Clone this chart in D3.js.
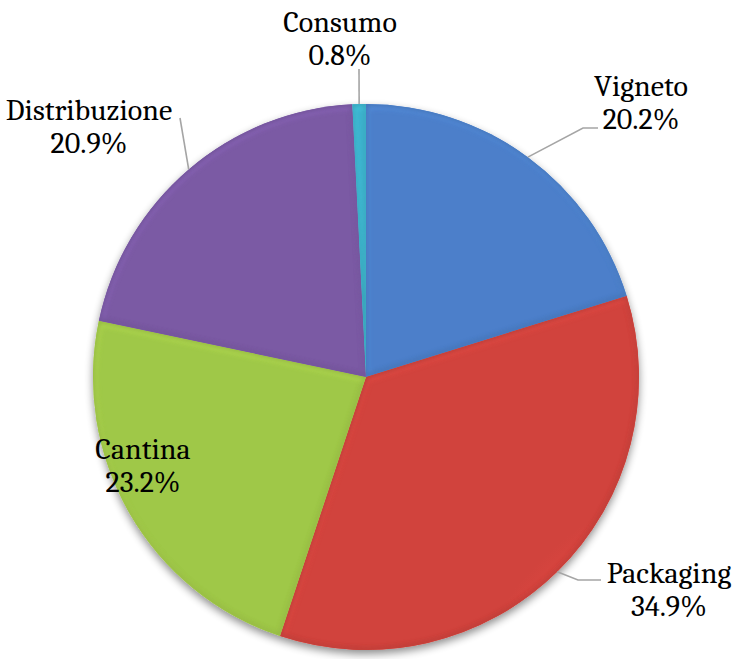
<!DOCTYPE html>
<html>
<head>
<meta charset="utf-8">
<script src="https://cdn.jsdelivr.net/npm/d3@7"></script>
<style>
  html, body { margin: 0; padding: 0; background: #ffffff; }
  svg { display: block; }
</style>
</head>
<body>
<svg id="chart" width="737" height="659"></svg>
<script>
// ---- data ----
const categories = ["Vigneto", "Packaging", "Cantina", "Distribuzione", "Consumo"];
const values = [20.2, 34.9, 23.2, 20.9, 0.8];
const valueLabels = ["20.2%", "34.9%", "23.2%", "20.9%", "0.8%"];
const colors = ["#4f84d1", "#d9453f", "#a5cf4b", "#7f5daa", "#3fb8d5"];

// ---- layout ----
const W = 737, H = 659;
const cx = 366, cy = 377, R = 273;
const labelPos = [
  {x: 641, y: 96, leader: [[583, 128], [598, 128]]},
  {x: 669, y: 583, leader: [[578, 580], [601, 580]]},
  {x: 143, y: 459, leader: null},
  {x: 89, y: 120, leader: [[180, 118]]},
  {x: 340, y: 32, leader: [[359, 69]]}
];

const svg = d3.select("#chart");
const defs = svg.append("defs");

const sh = defs.append("filter").attr("id", "shadow")
  .attr("x", "-20%").attr("y", "-20%").attr("width", "140%").attr("height", "140%");
sh.append("feGaussianBlur").attr("in", "SourceAlpha").attr("stdDeviation", 4).attr("result", "b");
sh.append("feOffset").attr("in", "b").attr("dx", 0).attr("dy", 4).attr("result", "o");
sh.append("feComponentTransfer").attr("in", "o").attr("result", "oa")
  .append("feFuncA").attr("type", "linear").attr("slope", 0.45);
const shm = sh.append("feMerge");
shm.append("feMergeNode").attr("in", "oa");
shm.append("feMergeNode").attr("in", "SourceGraphic");

defs.append("filter").attr("id", "soft")
  .append("feGaussianBlur").attr("stdDeviation", 2.5);

const pie = d3.pie().sort(null).value(d => d)(values);
const arc = d3.arc().innerRadius(0).outerRadius(R);

const g = svg.append("g").attr("transform", `translate(${cx},${cy})`);
g.append("g").attr("filter", "url(#shadow)")
  .selectAll("path").data(pie).join("path")
  .attr("d", arc).attr("fill", (d, i) => colors[i]);

pie.forEach((d, i) => {
  defs.append("clipPath").attr("id", "clip" + i)
    .append("path").attr("d", arc(d)).attr("transform", `translate(${cx},${cy})`);
  const rg = defs.append("radialGradient").attr("id", "grad" + i)
    .attr("gradientUnits", "userSpaceOnUse")
    .attr("cx", cx).attr("cy", cy).attr("r", R);
  const c = d3.color(colors[i]);
  rg.append("stop").attr("offset", "0%").attr("stop-color", c);
  rg.append("stop").attr("offset", "88%").attr("stop-color", c.brighter(0.04));
  rg.append("stop").attr("offset", "100%").attr("stop-color", c.darker(0.1));
});

const slices = svg.append("g");
pie.forEach((d, i) => {
  const sg = slices.append("g").attr("clip-path", `url(#clip${i})`);
  const p = arc(d);
  sg.append("path").attr("d", p).attr("transform", `translate(${cx},${cy})`)
    .attr("fill", `url(#grad${i})`);
  sg.append("path").attr("d", p).attr("transform", `translate(${cx + 1},${cy + 2})`)
    .attr("fill", "none").attr("stroke", d3.color(colors[i]).brighter(0.7))
    .attr("stroke-width", 5).attr("opacity", 0.5).attr("filter", "url(#soft)");
  sg.append("path").attr("d", p).attr("transform", `translate(${cx},${cy})`)
    .attr("fill", "none").attr("stroke", d3.color(colors[i]).darker(1.2))
    .attr("stroke-width", 4).attr("opacity", 0.5).attr("filter", "url(#soft)");
});

pie.forEach((d, i) => {
  const lp = labelPos[i];
  if (!lp.leader) return;
  const mid = (d.startAngle + d.endAngle) / 2;
  const start = [cx + R * Math.sin(mid), cy - R * Math.cos(mid)];
  svg.append("path")
    .attr("d", d3.line()([start].concat(lp.leader)))
    .attr("fill", "none").attr("stroke", "#a5a5a5").attr("stroke-width", 1.6);
});

pie.forEach((d, i) => {
  const lp = labelPos[i];
  const t = svg.append("text")
    .attr("x", lp.x).attr("y", lp.y)
    .attr("text-anchor", "middle")
    .style("font-family", '"Cambria", "Caladea", "Liberation Serif", serif')
    .style("font-size", "30px").attr("fill", "#000");
  t.append("tspan").attr("x", lp.x).text(categories[i]);
  t.append("tspan").attr("x", lp.x).attr("dy", 33).text(valueLabels[i]);
});
</script>
</body>
</html>
